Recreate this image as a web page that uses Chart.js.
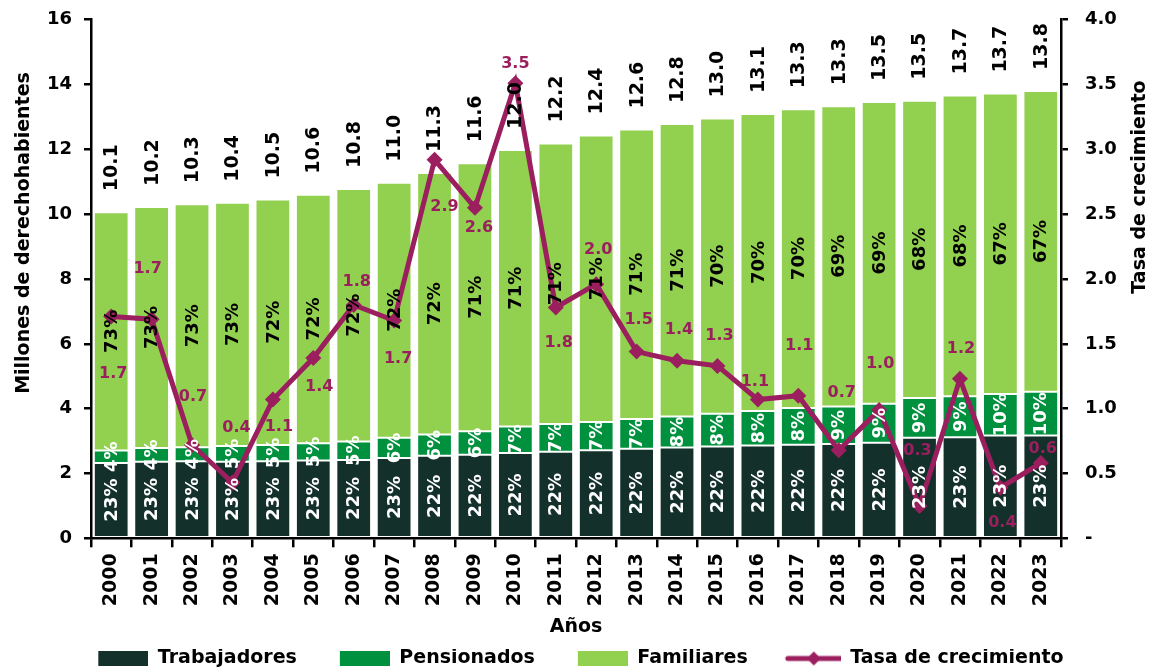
<!DOCTYPE html>
<html>
<head>
<meta charset="utf-8">
<script src="https://cdn.jsdelivr.net/npm/chart.js@4.4.0/dist/chart.umd.min.js"></script>
<style>
    html, body { margin: 0; padding: 0; background: #fff; }
    #wrap { width: 1152px; height: 669px; }
</style>
</head>
<body>
<div id="wrap"><canvas id="grafica"></canvas></div>
<script>
// Datos (millones de derechohabientes)
const years = ['2000', '2001', '2002', '2003', '2004', '2005', '2006', '2007', '2008', '2009', '2010', '2011',
    '2012', '2013', '2014', '2015', '2016', '2017', '2018', '2019', '2020', '2021', '2022', '2023'];
const trabajadores = [2.32, 2.36, 2.38, 2.36, 2.38, 2.40, 2.42, 2.48, 2.55, 2.58, 2.63, 2.67,
    2.72, 2.76, 2.80, 2.83, 2.86, 2.89, 2.91, 2.95, 3.10, 3.12, 3.17, 3.17];
const pensionados = [0.39, 0.43, 0.43, 0.49, 0.50, 0.53, 0.57, 0.62, 0.65, 0.72, 0.82, 0.86,
    0.87, 0.92, 0.96, 1.01, 1.07, 1.13, 1.16, 1.20, 1.23, 1.26, 1.28, 1.35];
const familiares = [7.35, 7.43, 7.50, 7.50, 7.57, 7.67, 7.79, 7.87, 8.07, 8.27, 8.53, 8.65,
    8.84, 8.93, 9.02, 9.11, 9.16, 9.22, 9.26, 9.31, 9.17, 9.28, 9.27, 9.28];
const tasaCrecimiento = [1.71, 1.69, 0.72, 0.43, 1.07, 1.39, 1.80, 1.68, 2.92, 2.55, 3.51, 1.78,
    1.96, 1.44, 1.37, 1.33, 1.07, 1.10, 0.68, 0.99, 0.25, 1.23, 0.39, 0.58];

// Etiquetas impresas en el gráfico
const totalLabels = ['10.1', '10.2', '10.3', '10.4', '10.5', '10.6', '10.8', '11.0', '11.3', '11.6', '12.0', '12.2',
    '12.4', '12.6', '12.8', '13.0', '13.1', '13.3', '13.3', '13.5', '13.5', '13.7', '13.7', '13.8'];
const pctTrabajadores = ['23%', '23%', '23%', '23%', '23%', '23%', '22%', '23%', '22%', '22%', '22%', '22%',
    '22%', '22%', '22%', '22%', '22%', '22%', '22%', '22%', '23%', '23%', '23%', '23%'];
const pctPensionados = ['4%', '4%', '4%', '5%', '5%', '5%', '5%', '6%', '6%', '6%', '7%', '7%',
    '7%', '7%', '8%', '8%', '8%', '8%', '9%', '9%', '9%', '9%', '10%', '10%'];
const pctFamiliares = ['73%', '73%', '73%', '73%', '72%', '72%', '72%', '72%', '72%', '71%', '71%', '71%',
    '71%', '71%', '71%', '70%', '70%', '70%', '69%', '69%', '68%', '68%', '67%', '67%'];
const tasaLabels = ['1.7', '1.7', '0.7', '0.4', '1.1', '1.4', '1.8', '1.7', '2.9', '2.6', '3.5', '1.8',
    '2.0', '1.5', '1.4', '1.3', '1.1', '1.1', '0.7', '1.0', '0.3', '1.2', '0.4', '0.6'];
const rightTicks = { 0: '-' };
const titleLeft = 'Millones de derechohabientes';
const titleRight = 'Tasa de crecimiento';

// Desplazamiento (px) de cada etiqueta de la tasa respecto a su punto
const tasaOffsets = [[2, 57], [-4, -50], [1, -48], [4, -55], [6, 27], [6, 29], [3, -23], [4, 38],
    [10, 47], [4, 20], [0, -19], [3, 35], [2, -34], [2, -32], [2, -31], [2, -30], [-3, -18],
    [1, -50], [3, -57], [1, -46], [-2, -55], [1, -30], [2, 35], [2, -14]];

const COLORS = {
    trab: '#13302A',
    pens: '#00913F',
    fam: '#92D050',
    tasa: '#9B1F5F',
};
const FONT = "'DejaVu Sans', sans-serif";

// Imágenes para la leyenda (con hueco transparente a la izquierda)
function legendBox(color) {
    const c = document.createElement('canvas');
    c.width = 93; c.height = 15;
    const g = c.getContext('2d');
    g.fillStyle = color;
    g.fillRect(43, 0, 50, 15);
    return c;
}
function legendLine(color) {
    const c = document.createElement('canvas');
    c.width = 93; c.height = 18;
    const g = c.getContext('2d');
    g.strokeStyle = color;
    g.lineWidth = 5;
    g.lineCap = 'round';
    g.beginPath(); g.moveTo(40, 9); g.lineTo(93, 9); g.stroke();
    g.fillStyle = color;
    g.beginPath(); g.moveTo(66, 2); g.lineTo(73, 9); g.lineTo(66, 16); g.lineTo(59, 9); g.closePath(); g.fill();
    return c;
}

// Plugin: etiquetas de porcentajes, totales y tasa
const labelsPlugin = {
    id: 'etiquetas',
    afterDatasetsDraw(chart) {
        const ctx = chart.ctx;
        const pctSets = [pctTrabajadores, pctPensionados, pctFamiliares];
        const pctColors = ['#fff', '#fff', '#000'];
        ctx.save();
        ctx.font = `bold 18px ${FONT}`;
        ctx.textBaseline = 'middle';

        pctSets.forEach((labels, d) => {
            chart.getDatasetMeta(d).data.forEach((el, i) => {
                ctx.save();
                ctx.translate(el.x, (el.y + el.base) / 2);
                ctx.rotate(-Math.PI / 2);
                ctx.textAlign = 'center';
                ctx.fillStyle = pctColors[d];
                ctx.fillText(labels[i], 0, 1);
                ctx.restore();
            });
        });

        // Totales encima de cada barra
        ctx.font = `bold 19px ${FONT}`;
        chart.getDatasetMeta(2).data.forEach((el, i) => {
            ctx.save();
            ctx.translate(el.x, el.y - 21);
            ctx.rotate(-Math.PI / 2);
            ctx.textAlign = 'left';
            ctx.fillStyle = '#000';
            ctx.fillText(totalLabels[i], 0, 1);
            ctx.restore();
        });

        // Tasa de crecimiento
        ctx.font = `bold 16px ${FONT}`;
        ctx.textAlign = 'center';
        ctx.fillStyle = COLORS.tasa;
        chart.getDatasetMeta(3).data.forEach((el, i) => {
            const [dx, dy] = tasaOffsets[i];
            ctx.fillText(tasaLabels[i], el.x + dx, el.y + dy);
        });
        ctx.restore();
    },
    // Títulos de los ejes verticales (ambos leídos de abajo hacia arriba)
    afterDraw(chart) {
        const ctx = chart.ctx;
        ctx.save();
        ctx.font = `bold 19px ${FONT}`;
        ctx.fillStyle = '#000';
        ctx.textAlign = 'center';
        ctx.textBaseline = 'middle';
        [[24, 233, titleLeft], [1140, 187, titleRight]].forEach(([x, y, t]) => {
            ctx.save();
            ctx.translate(x, y);
            ctx.rotate(-Math.PI / 2);
            ctx.fillText(t, 0, 0);
            ctx.restore();
        });
        ctx.restore();
    }
};

const barBase = {
    type: 'bar',
    yAxisID: 'y',
    stack: 'total',
    borderColor: '#fff',
    borderWidth: 1,
    borderSkipped: false,
    categoryPercentage: 1.0,
    barPercentage: 0.86,
    order: 1,
};

new Chart(document.getElementById('grafica').getContext('2d'), {
    data: {
        labels: years,
        datasets: [
            { ...barBase, label: 'Trabajadores', data: trabajadores, backgroundColor: COLORS.trab },
            { ...barBase, label: 'Pensionados', data: pensionados, backgroundColor: COLORS.pens },
            { ...barBase, label: 'Familiares', data: familiares, backgroundColor: COLORS.fam },
            {
                type: 'line',
                label: 'Tasa de crecimiento',
                data: tasaCrecimiento,
                yAxisID: 'y1',
                borderColor: COLORS.tasa,
                backgroundColor: COLORS.tasa,
                borderWidth: 5,
                pointStyle: 'rectRot',
                pointRadius: 8,
                pointBackgroundColor: COLORS.tasa,
                pointBorderWidth: 0,
                tension: 0,
                order: 0,
            },
        ],
    },
    options: {
        responsive: true,
        maintainAspectRatio: false,
        animation: false,
        layout: { padding: { top: 19, left: 0, right: 0, bottom: -9 } },
        scales: {
            x: {
                stacked: true,
                offset: true,
                grid: { display: true, drawOnChartArea: false, offset: true, color: '#000', lineWidth: 2.5, tickLength: 9 },
                border: { color: '#000', width: 2.5 },
                ticks: { color: '#000', font: { family: FONT, size: 19, weight: 'bold' }, minRotation: 90, maxRotation: 90, padding: 6 },
                title: { display: true, text: 'Años', color: '#000', font: { family: FONT, size: 19, weight: 'bold' }, padding: { top: 3, bottom: 11 } },
            },
            y: {
                stacked: true,
                position: 'left',
                min: 0,
                max: 16,
                ticks: { stepSize: 2, color: '#000', font: { family: FONT, size: 18, weight: 'bold', lineHeight: 0.3 }, padding: 12 },
                grid: { drawOnChartArea: false, color: '#000', lineWidth: 2.5, tickLength: 7 },
                border: { color: '#000', width: 2.5 },
                afterFit(scale) { scale.width = 91; },
            },
            y1: {
                position: 'right',
                min: 0,
                max: 4,
                ticks: {
                    stepSize: 0.5,
                    color: '#000',
                    font: { family: FONT, size: 18, weight: 'bold', lineHeight: 0.3 },
                    padding: 17,
                    callback: (v) => rightTicks[v] !== undefined ? rightTicks[v] : v.toFixed(1),
                },
                grid: { drawOnChartArea: false, color: '#000', lineWidth: 2.5, tickLength: 7 },
                border: { color: '#000', width: 2.5 },
                afterFit(scale) { scale.width = 91; },
            },
        },
        plugins: {
            tooltip: { enabled: false },
            legend: {
                position: 'bottom',
                labels: {
                    usePointStyle: true,
                    pointStyleWidth: 93,
                    boxHeight: 15,
                    padding: 0,
                    color: '#000',
                    font: { family: FONT, size: 19, weight: 'bold' },
                    // espacios finales: centran la leyenda como en el original
                    generateLabels: (chart) => chart.data.datasets.map((ds, i) => ({
                        text: ds.type === 'line' ? ds.label + '     ' : ds.label,
                        datasetIndex: i,
                        fontColor: '#000',
                        hidden: false,
                        pointStyle: ds.type === 'line' ? legendLine(ds.borderColor) : legendBox(ds.backgroundColor),
                        lineWidth: 0,
                        strokeStyle: 'transparent',
                        fillStyle: ds.backgroundColor,
                    })),
                },
            },
        },
    },
    plugins: [labelsPlugin],
});
</script>
</body>
</html>
